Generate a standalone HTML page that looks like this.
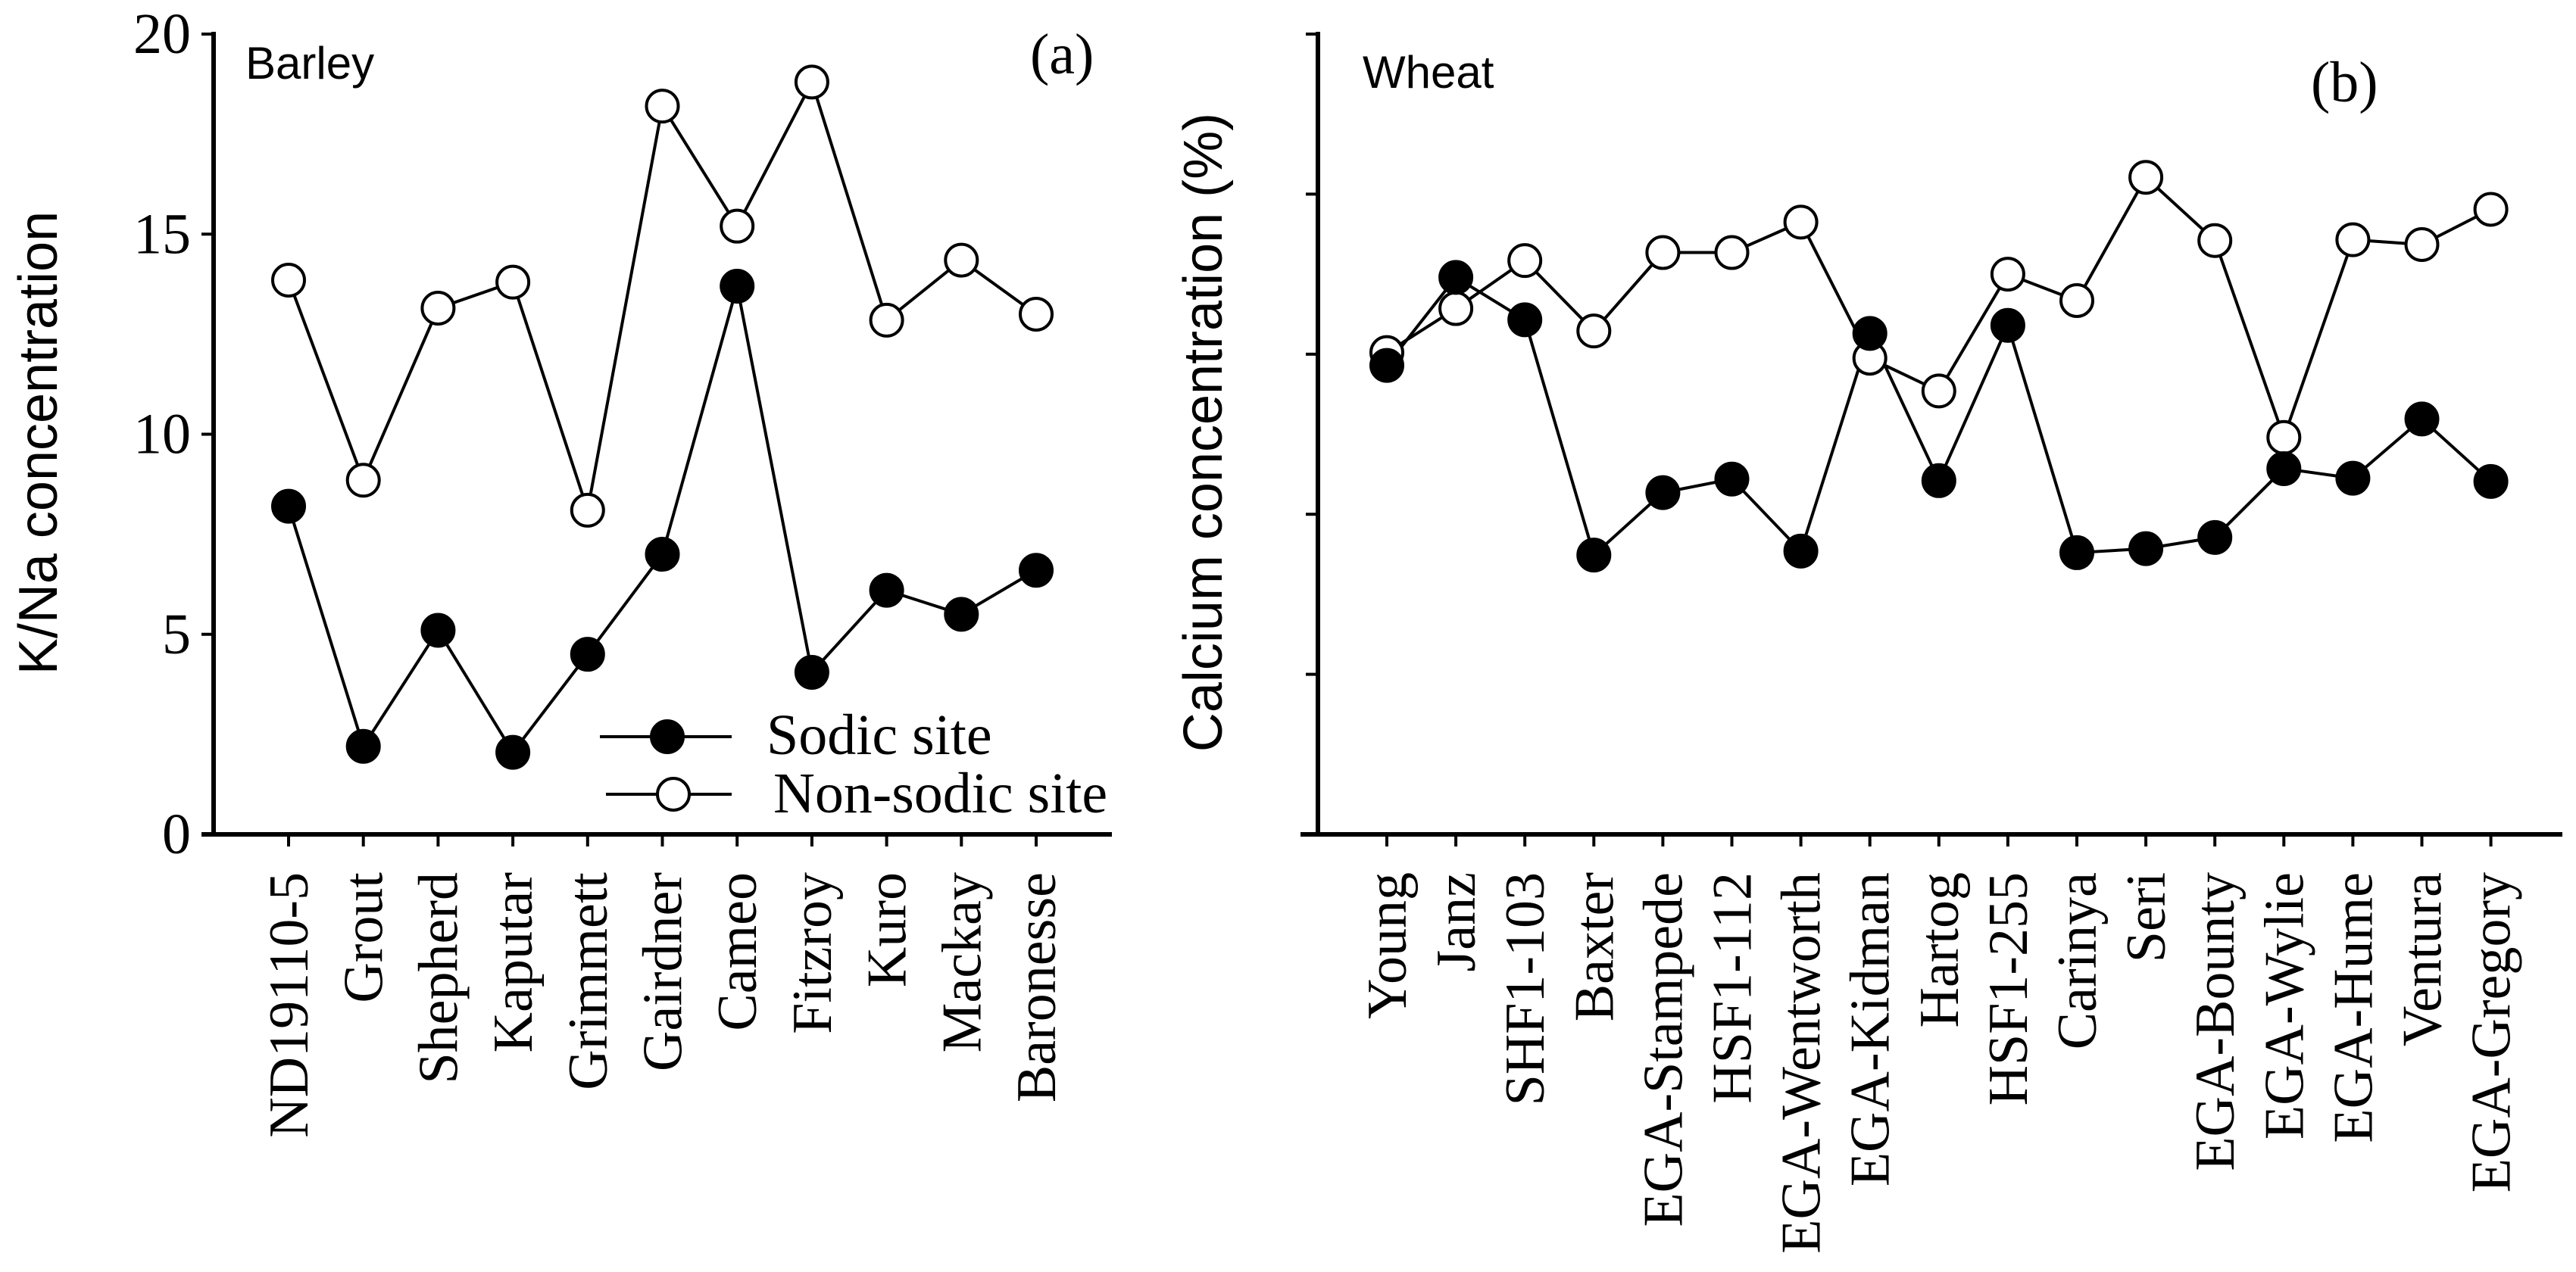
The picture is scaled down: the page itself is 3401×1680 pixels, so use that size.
<!DOCTYPE html>
<html><head><meta charset="utf-8"><style>
html,body{margin:0;padding:0;background:#fff;}
svg{display:block;}
text{fill:#000;}
.tm{font-family:"Liberation Serif",serif;}
.ar{font-family:"Liberation Sans",sans-serif;}
</style></head><body>
<svg id="chart" width="3401" height="1680" viewBox="0 0 3401 1680" xmlns="http://www.w3.org/2000/svg"></svg>
<script>
const barleyCats = ["ND19110-5","Grout","Shepherd","Kaputar","Grimmett","Gairdner","Cameo","Fitzroy","Kuro","Mackay","Baronesse"];
const barleySodic = [8.2,2.2,5.1,2.05,4.5,7.0,13.7,4.05,6.1,5.5,6.6];
const barleyNonSodic = [13.85,8.85,13.15,13.8,8.1,18.2,15.2,18.8,12.85,14.35,13.0];
const barleyTicks = [0,5,10,15,20];
const wheatCats = ["Young","Janz","SHF1-103","Baxter","EGA-Stampede","HSF1-112","EGA-Wentworth","EGA-Kidman","Hartog","HSF1-255","Carinya","Seri","EGA-Bounty","EGA-Wylie","EGA-Hume","Ventura","EGA-Gregory"];
const wheatSodic = [5.86,6.96,6.43,3.49,4.27,4.44,3.54,6.26,4.42,6.36,3.52,3.57,3.71,4.57,4.45,5.19,4.41];
const wheatNonSodic = [6.02,6.57,7.17,6.29,7.27,7.27,7.65,5.95,5.54,7.0,6.67,8.21,7.42,4.96,7.43,7.37,7.81];
const wheatTicks = [0,2,4,6,8,10];

const NS="http://www.w3.org/2000/svg";
const svg=document.getElementById('chart');
function mk(tag,attrs,parent){const e=document.createElementNS(NS,tag);for(const k in attrs)e.setAttribute(k,attrs[k]);(parent||svg).appendChild(e);return e;}

function panel(o){
  const g=mk('g',{});
  
  
  const y=v=>o.y0-(v-o.vmin)/(o.vmax-o.vmin)*(o.y0-o.y1);
  const x=i=>o.xFirst+i*o.xStep;
  const ya=mk('line',{x1:o.ax,y1:o.y1-3,x2:o.ax,y2:o.y0+3,stroke:'#000','stroke-width':6},g);
  
  
  const xa=mk('line',{x1:o.xl,y1:o.y0,x2:o.xr,y2:o.y0,stroke:'#000','stroke-width':6},g);
  
  
  o.ticks.forEach(t=>{
    const tk=mk('line',{x1:o.ax-16,y1:y(t),x2:o.ax,y2:y(t),stroke:'#000','stroke-width':4},g);
    
    
    if(o.showLabels){
      const tl=mk('text',{x:o.ax-30,y:y(t)+25,'text-anchor':'end','font-size':76,class:'tm'},g);
      tl.textContent=t;
      
      
    }
  });
  o.cats.forEach((c,i)=>{
    const tk=mk('line',{x1:x(i),y1:o.y0,x2:x(i),y2:o.y0+16,stroke:'#000','stroke-width':4},g);
    
    
    const tl=mk('text',{x:0,y:0,'text-anchor':'end','font-size':74,class:'tm',transform:`translate(${x(i)+25},${o.y0+50}) rotate(-90)`},g);
    tl.textContent=c;
    
    
  });
  [[o.non,'#fff','non-sodic'],[o.sod,'#000','sodic']].forEach(([arr,fill,nm])=>{
    const pts=arr.map((v,i)=>x(i)+','+y(v)).join(' ');
    const pl=mk('polyline',{points:pts,fill:'none',stroke:'#000','stroke-width':4},g);
    
    
  });
  [[o.non,'#fff','non-sodic'],[o.sod,'#000','sodic']].forEach(([arr,fill,nm])=>{
    arr.forEach((v,i)=>{
      const c=mk('circle',{cx:x(i),cy:y(v),r:21,fill:fill,stroke:'#000','stroke-width':4},g);
      
      
    });
  });
}

panel({name:'barley-panel',ax:282,xl:266,xr:1468,y0:1102,y1:45,vmin:0,vmax:20,xFirst:381,xStep:98.7,
  cats:barleyCats,sod:barleySodic,non:barleyNonSodic,ticks:barleyTicks,showLabels:true});
panel({name:'wheat-panel',ax:1740,xl:1717,xr:3383,y0:1102,y1:45,vmin:0,vmax:10,xFirst:1831,xStep:91.1,
  cats:wheatCats,sod:wheatSodic,non:wheatNonSodic,ticks:wheatTicks,showLabels:false});

function txt(s,attrs,name){const t=mk('text',attrs);t.textContent=s;
  
  return t;}
txt('K/Na concentration',{x:0,y:0,'text-anchor':'middle','font-size':72,class:'ar',transform:'translate(75,585) rotate(-90)'},'y-axis-title-left');
txt('Calcium concentration (%)',{x:0,y:0,'text-anchor':'middle','font-size':72,class:'ar',transform:'translate(1613,571) rotate(-90)'},'y-axis-title-right');
txt('Barley',{x:324,y:104,'font-size':60,class:'ar'},'panel-title-barley');
txt('(a)',{x:1360,y:97,'font-size':76,class:'tm'},'panel-label-a');
txt('Wheat',{x:1799,y:116,'font-size':60,class:'ar'},'panel-title-wheat');
txt('(b)',{x:3051,y:134,'font-size':76,class:'tm'},'panel-label-b');

const lg=mk('g',{});


const l1=mk('line',{x1:792,y1:973,x2:966,y2:973,stroke:'#000','stroke-width':4},lg);


const c1=mk('circle',{cx:881,cy:973,r:21,fill:'#000',stroke:'#000','stroke-width':4},lg);


const l2=mk('line',{x1:800,y1:1049,x2:966,y2:1049,stroke:'#000','stroke-width':4},lg);


const c2=mk('circle',{cx:889,cy:1049,r:21,fill:'#fff',stroke:'#000','stroke-width':4},lg);


txt('Sodic site',{x:1012,y:996,'font-size':76,class:'tm'},'legend-sodic-label');
txt('Non-sodic site',{x:1021,y:1073,'font-size':76,class:'tm'},'legend-non-sodic-label');
</script>
</body></html>
